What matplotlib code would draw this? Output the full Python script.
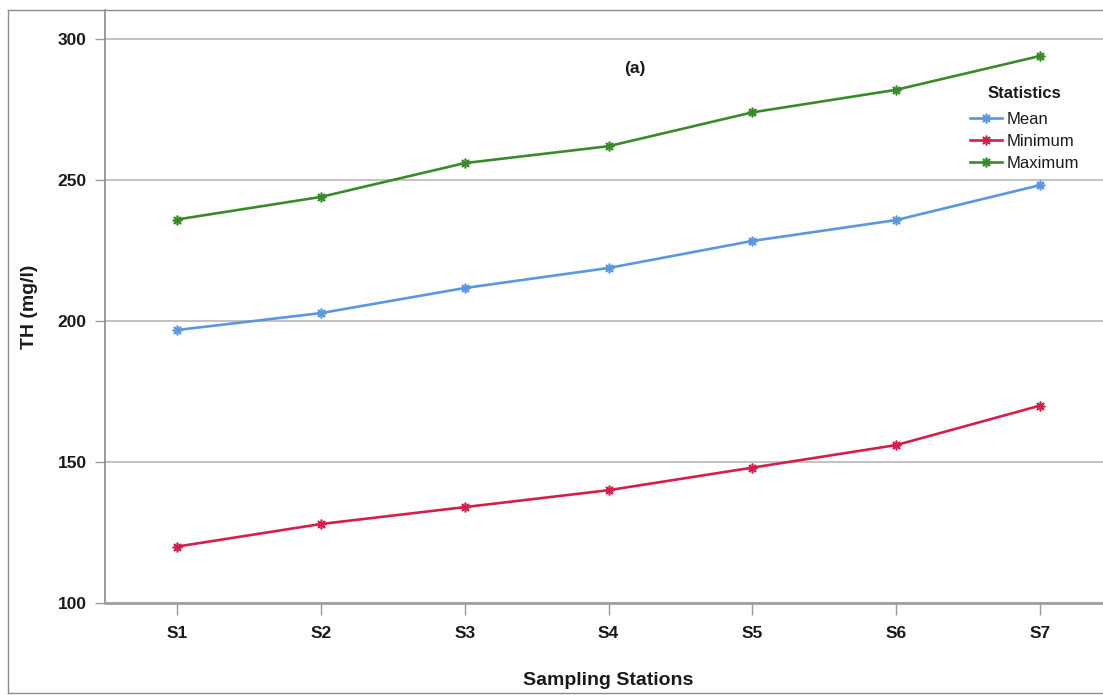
import matplotlib
matplotlib.use("Agg")
import matplotlib.pyplot as plt
from matplotlib.lines import Line2D

stations = ["S1", "S2", "S3", "S4", "S5", "S6", "S7"]
mean_vals = [196.8, 202.8, 211.7, 218.8, 228.4, 235.8, 248.2]
min_vals = [120, 128, 134, 140, 148, 156, 170]
max_vals = [236, 244, 256, 262, 274, 282, 294]
y_ticks = [100, 150, 200, 250, 300]

plt.rcParams['font.family'] = ['Liberation Sans', 'DejaVu Sans']

W, H = 1103, 695
fig = plt.figure(figsize=(W / 100, H / 100), dpi=100)
fig.patch.set_facecolor("white")

# outer frame
frame_c = "#8c8c8c"
fig.add_artist(Line2D([8 / W, 8 / W], [2 / H, 1 - 10 / H], color=frame_c, lw=1.0, transform=fig.transFigure))
fig.add_artist(Line2D([8 / W, 1.0], [1 - 10 / H, 1 - 10 / H], color=frame_c, lw=1.0, transform=fig.transFigure))
fig.add_artist(Line2D([8 / W, 1.0], [2 / H, 2 / H], color=frame_c, lw=1.0, transform=fig.transFigure))

left, right, top, bottom = 105, 1112, 10, 603
ax = fig.add_axes([left / W, 1 - bottom / H, (right - left) / W, (bottom - top) / H])
ax.set_facecolor("none")

x = list(range(1, len(stations) + 1))
colors = {"Mean": "#5b96e0", "Minimum": "#d41f4c", "Maximum": "#3a8a2c"}
series = [("Mean", mean_vals), ("Minimum", min_vals), ("Maximum", max_vals)]
for name, vals in series:
    ax.plot(x, vals, color=colors[name], lw=1.9, marker=(8, 2, 0), markersize=7,
            markeredgewidth=1.2, label=name, zorder=3)

ax.set_xlim(0.5, 7.5)
ax.set_ylim(100, 310.3)
ax.set_xticks(x)
ax.set_xticklabels(stations)
ax.set_yticks(y_ticks)
ax.set_yticklabels([str(v) for v in y_ticks])

ax.grid(axis="y", color="#bdbdbd", lw=1.3, zorder=0)
ax.set_axisbelow(True)
for s in ["top", "right"]:
    ax.spines[s].set_visible(False)
ax.spines["left"].set_color("#8a8a8a")
ax.spines["left"].set_linewidth(1.2)
ax.spines["bottom"].set_color("#a0a0a0")
ax.spines["bottom"].set_linewidth(2.0)

ax.tick_params(axis="y", length=7.2, width=1.0, color="#9a9a9a", pad=6.0, labelsize=12.5)
ax.tick_params(axis="x", length=8.6, width=1.0, color="#9a9a9a", pad=8.0, labelsize=12.5)
for lab in ax.get_xticklabels() + ax.get_yticklabels():
    lab.set_fontweight("bold")
    lab.set_color("#1a1a1a")

ax.set_ylabel("TH (mg/l)", fontsize=14, fontweight="bold", color="#1a1a1a", labelpad=14)
ax.set_xlabel("Sampling Stations", fontsize=14, fontweight="bold", color="#1a1a1a", labelpad=22)

fig.text(635 / W, 1 - 68 / H, "(a)", ha="center", va="center", fontsize=12.5, fontweight="bold", color="#1a1a1a")

leg = ax.legend(loc="upper left", bbox_to_anchor=(970 / W, 1 - 86 / H), bbox_transform=fig.transFigure,
                frameon=False, title="Statistics", fontsize=12, handlelength=1.9,
                handletextpad=0.3, labelspacing=0.41, borderpad=0.0, borderaxespad=0)
leg._legend_box.sep = 8
leg.get_title().set_fontweight("bold")
leg.get_title().set_fontsize(12)
leg.get_title().set_color("#1a1a1a")
for t in leg.get_texts():
    t.set_color("#1a1a1a")

fig.savefig("out.png", dpi=100, facecolor="white")
